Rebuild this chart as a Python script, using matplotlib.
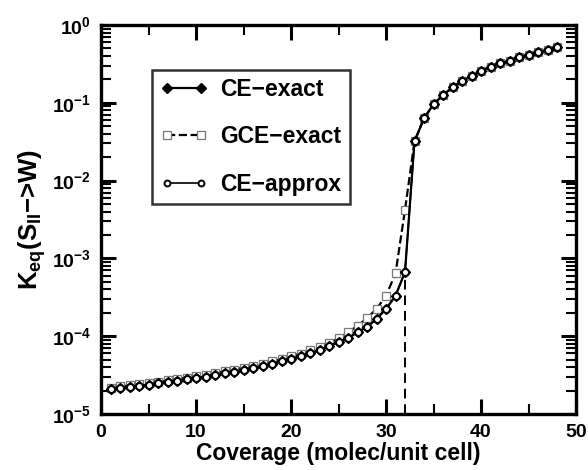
import matplotlib
matplotlib.use("Agg")
import matplotlib.pyplot as plt
import numpy as np
from matplotlib.ticker import LogLocator, MultipleLocator, NullFormatter

plt.rcParams['font.family'] = ['Liberation Sans', 'DejaVu Sans']
plt.rcParams['font.weight'] = 'bold'
plt.rcParams['mathtext.fontset'] = 'custom'
plt.rcParams['mathtext.rm'] = 'Liberation Sans:bold'
plt.rcParams['mathtext.bf'] = 'Liberation Sans:bold'
plt.rcParams['mathtext.it'] = 'Liberation Sans:bold'
plt.rcParams['mathtext.default'] = 'bf'

# coverage (molec/unit cell)
coverage = list(range(1, 49))

# CE-exact equilibrium constant
ce_exact = [2.07e-5, 2.15e-5, 2.22e-5, 2.30e-5, 2.38e-5, 2.47e-5, 2.56e-5, 2.66e-5,
            2.78e-5, 2.90e-5, 3.03e-5, 3.17e-5, 3.33e-5, 3.50e-5, 3.70e-5, 3.90e-5,
            4.15e-5, 4.40e-5, 4.75e-5, 5.10e-5, 5.50e-5, 6.00e-5, 6.60e-5, 7.40e-5,
            8.40e-5, 9.50e-5, 1.12e-4, 1.32e-4, 1.66e-4, 2.24e-4, 3.30e-4, 6.70e-4,
            3.20e-2, 6.30e-2, 9.60e-2, 0.126, 0.158, 0.190, 0.220, 0.254,
            0.286, 0.320, 0.347, 0.385, 0.415, 0.445, 0.477, 0.516]

# GCE-exact
gce_exact = [2.18e-5, 2.26e-5, 2.33e-5, 2.42e-5, 2.50e-5, 2.60e-5, 2.70e-5, 2.81e-5,
             2.94e-5, 3.07e-5, 3.21e-5, 3.37e-5, 3.54e-5, 3.73e-5, 3.95e-5, 4.17e-5,
             4.45e-5, 4.73e-5, 5.12e-5, 5.52e-5, 5.98e-5, 6.55e-5, 7.25e-5, 8.20e-5,
             9.40e-5, 1.12e-4, 1.36e-4, 1.70e-4, 2.24e-4, 3.30e-4, 6.40e-4, 4.20e-3,
             3.20e-2, 6.30e-2, 9.60e-2, 0.126, 0.158, 0.190, 0.220, 0.254,
             0.286, 0.320, 0.347, 0.385, 0.415, 0.445, 0.477, 0.516]

# CE-approx
ce_approx = [2.07e-5, 2.15e-5, 2.22e-5, 2.30e-5, 2.38e-5, 2.47e-5, 2.56e-5, 2.66e-5,
             2.78e-5, 2.90e-5, 3.03e-5, 3.17e-5, 3.33e-5, 3.50e-5, 3.70e-5, 3.90e-5,
             4.15e-5, 4.40e-5, 4.75e-5, 5.10e-5, 5.50e-5, 6.00e-5, 6.60e-5, 7.40e-5,
             8.40e-5, 9.50e-5, 1.12e-4, 1.32e-4, 1.66e-4, 2.24e-4, 3.30e-4, 6.70e-4,
             3.20e-2, 6.30e-2, 9.60e-2, 0.126, 0.158, 0.190, 0.220, 0.254,
             0.286, 0.320, 0.347, 0.385, 0.415, 0.445, 0.477, 0.516]

transition_x = 32
transition_y = 6.7e-4

fig = plt.figure(figsize=(5.88, 4.70), dpi=100)
ax = fig.add_axes([101/588, 56/470, 475/588, 389/470])

ax.plot(coverage, gce_exact, linestyle='--', color='black', lw=1.6,
        marker='s', ms=6, mfc='white', mec='#777777', mew=0.9, label='GCE\u2212exact', zorder=2)
ax.plot(coverage, ce_exact, linestyle='-', color='black', lw=1.6,
        marker='D', ms=5.5, mfc='black', mec='black', label='CE\u2212exact', zorder=3)
ax.plot(coverage, ce_approx, linestyle='-', color='black', lw=1.2,
        marker='o', ms=5, mfc='white', mec='black', mew=1.4, label='CE\u2212approx', zorder=4)

# dashed drop line at the transition
ax.plot([transition_x, transition_x], [1e-5, transition_y], linestyle=(0, (5, 3)),
        color='black', lw=1.4, zorder=1)

ax.set_yscale('log')
ax.set_xlim(0, 50)
ax.set_ylim(1e-5, 1)

ax.xaxis.set_major_locator(MultipleLocator(10))
ax.xaxis.set_minor_locator(MultipleLocator(5))
ax.yaxis.set_major_locator(LogLocator(base=10, numticks=10))
ax.yaxis.set_minor_locator(LogLocator(base=10, subs=np.arange(2, 10), numticks=10))
ax.yaxis.set_minor_formatter(NullFormatter())

ax.tick_params(which='both', direction='in', top=True, right=True, labelsize=14, pad=7)
ax.tick_params(which='major', length=11, width=2.2)
ax.tick_params(which='minor', length=7, width=1.5)
for s in ax.spines.values():
    s.set_linewidth(2.4)

ax.set_xlabel('Coverage (molec/unit cell)', fontsize=16.5, fontweight='bold', labelpad=1)
ax.set_ylabel('K$_{eq}$(S$_{II}$\u2212>W)', fontsize=18.5, fontweight='bold', labelpad=3)

handles, labels = ax.get_legend_handles_labels()
order = [1, 0, 2]
leg = ax.legend([handles[i] for i in order], [labels[i] for i in order],
                loc='upper left', bbox_to_anchor=(0.107, 0.884), borderaxespad=0,
                fontsize=16.5, numpoints=2, markerscale=0.85,
                frameon=True, fancybox=False, edgecolor='black', handlelength=2.1,
                labelspacing=1.06, borderpad=0.35, handletextpad=0.55)
leg.get_frame().set_linewidth(1.8)

fig.savefig('out.png', dpi=100)
